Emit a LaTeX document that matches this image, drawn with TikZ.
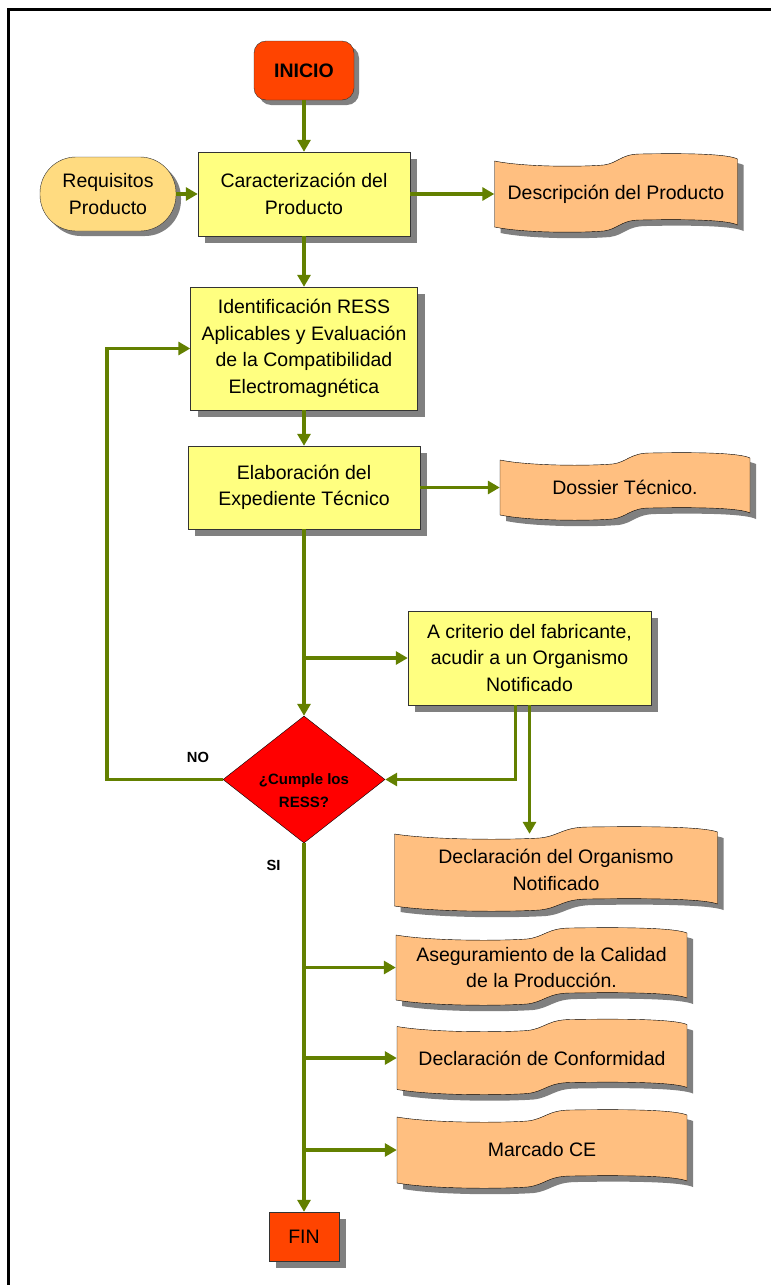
\documentclass[tikz,border=0pt]{standalone}
\usepackage{fontspec}
\setmainfont{Liberation Sans}
\usetikzlibrary{shapes.geometric,arrows.meta,shadows}

\definecolor{flowgreen}{HTML}{638000}
\definecolor{boxyellow}{HTML}{FFFF80}
\definecolor{docorange}{HTML}{FFBF80}
\definecolor{reqorange}{HTML}{FFDB80}
\definecolor{startred}{HTML}{FF4400}
\definecolor{shadowgray}{HTML}{808080}

\newcommand\docpath[2]{%
  ({-#1/2},{-#2/2}) .. controls ({-0.38*#1},{-#2/2+6}) and ({-0.15*#1},{-#2/2+6}) .. ({-0.05*#1},{-#2/2+4})
  .. controls ({0.01*#1},{-#2/2+2}) and ({0.02*#1},{-#2/2-7}) .. ({0.1*#1},{-#2/2-7})
  .. controls ({0.3*#1},{-#2/2-8}) and ({0.46*#1},{-#2/2-7}) .. ({#1/2},{-#2/2-2})
  -- ({#1/2},{#2/2-2})
  .. controls ({0.46*#1},{#2/2-7}) and ({0.3*#1},{#2/2-8}) .. ({0.1*#1},{#2/2-7})
  .. controls ({0.02*#1},{#2/2-7}) and ({0.01*#1},{#2/2+2}) .. ({-0.05*#1},{#2/2+4})
  .. controls ({-0.15*#1},{#2/2+6}) and ({-0.38*#1},{#2/2+6}) .. ({-#1/2},{#2/2})
  -- cycle}

\newcommand\docnode[6]{%
  \fill[shadowgray, shift={(#2+6,#3+6)}] \docpath{#4}{#5};
  \filldraw[fill=docorange, draw=black, shift={(#2,#3)}] \docpath{#4}{#5};
  \node[docbox, minimum width=#4pt, minimum height=#5pt] (#1) at (#2,#3) {#6};}

\begin{document}
\begin{tikzpicture}
  [x=1pt,y=-1pt,
   every node/.style={font=\fontsize{19.5}{26.5}\selectfont},
   boxshadow/.style={drop shadow={shadow xshift=7pt,shadow yshift=-7pt,fill=shadowgray,opacity=1}},
   procbox/.style={rectangle,draw=black!80,fill=boxyellow,align=center,inner sep=0pt,boxshadow},
   startbox/.style={rectangle,rounded corners=12pt,draw=black!80,fill=startred,inner sep=0pt,
     font=\fontsize{19.5}{26.5}\selectfont\bfseries,drop shadow={shadow xshift=5pt,shadow yshift=-5pt,fill=shadowgray,opacity=1}},
   endbox/.style={rectangle,draw=black!80,fill=startred,inner sep=0pt,boxshadow},
   inbox/.style={rectangle,rounded corners=36pt,draw=black!80,fill=reqorange,align=center,inner sep=0pt,
     drop shadow={shadow xshift=5pt,shadow yshift=-5pt,fill=shadowgray,opacity=1}},
   docbox/.style={rectangle,inner sep=0pt,align=center},
   decision/.style={diamond,draw=black,fill=red,aspect=1.28,minimum width=162pt,minimum height=127pt,
     inner sep=0pt,align=center,text height=56pt,text depth=0pt,font=\fontsize{15}{23}\selectfont\bfseries},
   answer/.style={font=\fontsize{14.7}{18}\selectfont\bfseries},
   flow/.style={draw=flowgreen,line width=3.8pt,-{Triangle[length=12pt,width=13pt]}}]

  \useasboundingbox (0,0) rectangle (771,1285);
  \draw[line width=2.5pt] (8.5,1285) -- (8.5,9.5) -- (771,9.5);

  \node[startbox,minimum width=100pt,minimum height=59pt] (inicio) at (304,70.5) {INICIO};
  \node[inbox,minimum width=136pt,minimum height=74pt] (req) at (108,194) {Requisitos\\Producto};
  \node[procbox,minimum width=212pt,minimum height=84pt] (caract) at (304,194) {Caracterización del\\Producto};
  \docnode{desc}{616}{194}{243}{66}{Descripción del Producto}
  \node[procbox,minimum width=227pt,minimum height=123pt] (ident) at (304,348.5)
    {Identificación RESS\\Aplicables y Evaluación\\de la Compatibilidad\\Electromagnética};
  \node[procbox,minimum width=232pt,minimum height=83pt] (elab) at (304,487.5) {Elaboración del\\Expediente Técnico};
  \docnode{dossier}{625}{487.5}{250}{55}{Dossier Técnico.}
  \node[procbox,minimum width=243pt,minimum height=94pt] (criterio) at (529.5,658)
    {A criterio del fabricante,\\acudir a un Organismo\\Notificado};
  \node[decision] (cumple) at (304,779.5) {¿Cumple los\\RESS?};
  \docnode{declorg}{556}{870}{323}{72}{Declaración del Organismo\\Notificado}
  \docnode{aseg}{541.5}{967.5}{291}{65}{Aseguramiento de la Calidad\\de la Producción.}
  \docnode{conf}{542}{1058}{290}{63}{Declaración de Conformidad}
  \docnode{marcado}{542}{1150}{290}{66}{Marcado CE}
  \node[endbox,minimum width=70pt,minimum height=49pt] (fin) at (304,1236.5) {FIN};
  \node[answer] (no) at (198,757) {NO};
  \node[answer] (si) at (273.5,865) {SI};
  \coordinate (loop) at (107,779.5);

  \draw[flow] (inicio) -- (caract);
  \draw[flow] (req) -- (caract);
  \draw[flow] (caract) -- (desc);
  \draw[flow] (caract) -- (ident);
  \draw[flow] (ident) -- (elab);
  \draw[flow] (elab) -- (dossier);
  \draw[flow] (elab) -- (cumple);
  \draw[flow] (elab.south |- criterio.west) -- (criterio.west);
  \draw[flow] ([xshift=-14pt]criterio.south) |- (cumple.east);
  \draw[flow] (criterio.south) -- (criterio.south |- declorg.north);
  \draw[flow] (cumple.west) -- (loop) |- (ident.west);
  \draw[flow] (cumple) -- (fin);
  \foreach \d in {aseg,conf,marcado}
    \draw[flow] (cumple.south |- \d.west) -- (\d.west);

\end{tikzpicture}
\end{document}
